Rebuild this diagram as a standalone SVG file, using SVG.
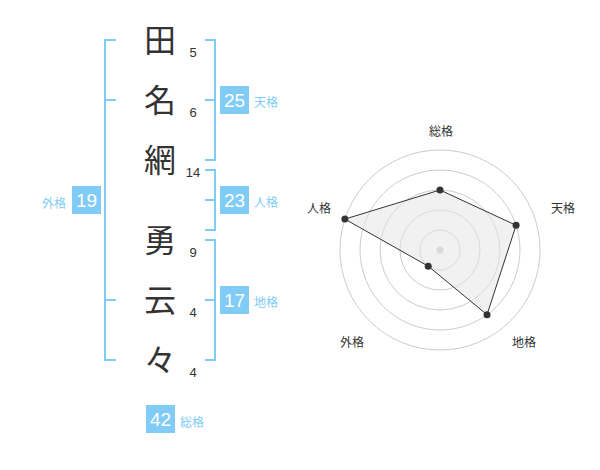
<svg xmlns="http://www.w3.org/2000/svg" width="600" height="470" viewBox="0 0 600 470">
<style>
text{font-family:"Liberation Sans","Noto Sans CJK JP",sans-serif}
.ch{font-size:32px;fill:#333;text-anchor:middle;font-family:"Noto Sans CJK JP",sans-serif}
.num{font-size:13px;fill:#333;text-anchor:middle}
.br{fill:none;stroke:#80ccf6;stroke-width:2}
.box{fill:#80ccf6}
.bn{font-size:19px;fill:#fff;text-anchor:middle}
.bl{font-size:12px;fill:#80ccf6}
.rl{font-size:12px;fill:#333;text-anchor:middle}
.ring{fill:none;stroke:#cccccc;stroke-width:1}
.pt{fill:#333}
</style>
<rect width="600" height="470" fill="#fff"/>
<g id="chars">
<text class="ch" x="160" y="52">田</text>
<text class="ch" x="160" y="112">名</text>
<text class="ch" x="160" y="172">網</text>
<text class="ch" x="160" y="252">勇</text>
<text class="ch" x="160" y="312">云</text>
<text class="ch" x="160" y="372">々</text>
</g>
<g id="strokes">
<text class="num" x="193" y="57">5</text>
<text class="num" x="193" y="117">6</text>
<text class="num" x="193" y="177">14</text>
<text class="num" x="193" y="257">9</text>
<text class="num" x="193" y="317">4</text>
<text class="num" x="193" y="377">4</text>
</g>
<g id="connectors">
<path class="br" d="M116,40 H105 V360 H116 M105,100 H116 M105,300 H116"/>
<path class="br" d="M205,40 H215 V160 H205 M205,100 H215"/>
<path class="br" d="M205,170 H215 V230 H205 M205,200 H215"/>
<path class="br" d="M205,240 H215 V360 H205 M205,300 H215"/>
</g>
<g id="gaikaku">
<rect class="box" x="72" y="186" width="29" height="28"/>
<text class="bn" x="86.5" y="207">19</text>
<text class="bl" x="66" y="208" text-anchor="end">外格</text>
</g>
<g id="tenkaku">
<rect class="box" x="220" y="86" width="29" height="28"/>
<text class="bn" x="234.5" y="107">25</text>
<text class="bl" x="254" y="107">天格</text>
</g>
<g id="jinkaku">
<rect class="box" x="220" y="186" width="29" height="28"/>
<text class="bn" x="234.5" y="207">23</text>
<text class="bl" x="254" y="207">人格</text>
</g>
<g id="chikaku">
<rect class="box" x="220" y="286" width="29" height="28"/>
<text class="bn" x="234.5" y="307">17</text>
<text class="bl" x="254" y="307">地格</text>
</g>
<g id="soukaku">
<rect class="box" x="146" y="405" width="29" height="28"/>
<text class="bn" x="160.5" y="426">42</text>
<text class="bl" x="180" y="427">総格</text>
</g>
<g id="radar">
<circle class="ring" cx="440" cy="250" r="20"/>
<circle class="ring" cx="440" cy="250" r="40"/>
<circle class="ring" cx="440" cy="250" r="60"/>
<circle class="ring" cx="440" cy="250" r="80"/>
<circle class="ring" cx="440" cy="250" r="100"/>
<circle cx="440" cy="250" r="3.5" fill="#cccccc"/>
<polygon points="440,190 516.08,225.28 487.02,314.72 428.24,266.18 344.89,219.1" fill="#e6e6e6" fill-opacity="0.55" stroke="#333" stroke-width="1"/>
<circle class="pt" cx="440" cy="190" r="3.5"/>
<circle class="pt" cx="516.08" cy="225.28" r="3.5"/>
<circle class="pt" cx="487.02" cy="314.72" r="3.5"/>
<circle class="pt" cx="428.24" cy="266.18" r="3.5"/>
<circle class="pt" cx="344.89" cy="219.1" r="3.5"/>
<text class="rl" x="441" y="136">総格</text>
<text class="rl" x="563" y="213">天格</text>
<text class="rl" x="524" y="347">地格</text>
<text class="rl" x="352" y="347">外格</text>
<text class="rl" x="319" y="213">人格</text>
</g>
</svg>
